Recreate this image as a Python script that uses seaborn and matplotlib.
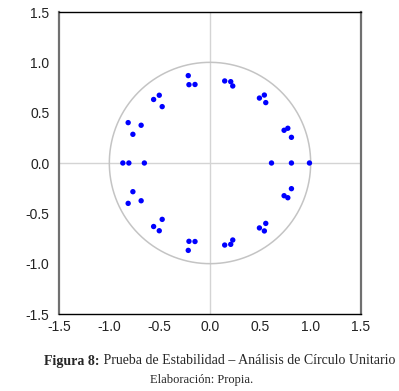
import numpy as np
import pandas as pd
import matplotlib
matplotlib.use("Agg")
import matplotlib.pyplot as plt
import seaborn as sns

# Inverse roots of the AR characteristic polynomial
real_part = [-0.216, -0.209, -0.149, 0.146, 0.206, 0.226,
             -0.504, -0.560, -0.475, 0.491, 0.540, 0.554,
             -0.813, -0.684, -0.766, 0.736, 0.773, 0.809,
             -0.216, -0.209, -0.149, 0.146, 0.206, 0.226,
             -0.504, -0.560, -0.475, 0.491, 0.540, 0.554,
             -0.813, -0.684, -0.766, 0.736, 0.773, 0.809,
             -0.866, -0.806, -0.652, 0.611, 0.809, 0.988]
imag_part = [0.868, 0.778, 0.780, 0.815, 0.808, 0.765,
             0.673, 0.631, 0.560, 0.645, 0.675, 0.600,
             0.401, 0.375, 0.285, 0.325, 0.345, 0.255,
             -0.868, -0.778, -0.780, -0.815, -0.808, -0.765,
             -0.673, -0.631, -0.560, -0.645, -0.675, -0.600,
             -0.401, -0.375, -0.285, -0.325, -0.345, -0.255,
             0.0, 0.0, 0.0, 0.0, 0.0, 0.0]
tick_values = [-1.5, -1.0, -0.5, 0.0, 0.5, 1.0, 1.5]
tick_labels = ["-1.5", "-1.0", "-0.5", "0.0", "0.5", "1.0", "1.5"]
caption_bold = "Figura 8:"
caption_rest = " Prueba de Estabilidad \u2013 An\u00e1lisis de C\u00edrculo Unitario"
source_text = "Elaboraci\u00f3n: Propia."

df = pd.DataFrame({"re": real_part, "im": imag_part})

sns.set_theme(style="white")
plt.rcParams["font.family"] = ["Liberation Sans", "DejaVu Sans"]

fig = plt.figure(figsize=(3.99, 3.91), dpi=100)
ax = fig.add_axes([59 / 399, 1 - 314 / 391, (361 - 59) / 399, (314 - 12) / 391])

ax.axhline(0, color="#d4d4d4", lw=1, zorder=0)
ax.axvline(0, color="#d4d4d4", lw=1, zorder=0)
theta = np.linspace(0, 2 * np.pi, 400)
ax.plot(np.cos(theta), np.sin(theta), color="#c4c4c4", lw=1.1, zorder=1)

sns.scatterplot(data=df, x="re", y="im", ax=ax, color="#0000ff",
                s=15, edgecolor="none", zorder=3, legend=False)

ax.set_xlim(-1.5, 1.5)
ax.set_ylim(-1.5, 1.5)
ax.set_xticks(tick_values)
ax.set_xticklabels(tick_labels)
ax.set_yticks(tick_values)
ax.set_yticklabels(tick_labels)
ax.set_xlabel("")
ax.set_ylabel("")
ax.tick_params(axis="x", direction="in", length=4, width=0.8, color="#333333",
               labelsize=10, labelcolor="#222222", pad=4)
ax.tick_params(axis="y", direction="out", length=4, width=0.8, color="#777777",
               labelsize=10, labelcolor="#222222", pad=3)
for side in ["top", "bottom"]:
    ax.spines[side].set_color("#000000")
    ax.spines[side].set_linewidth(1.0)
for side in ["left", "right"]:
    ax.spines[side].set_color("#707070")
    ax.spines[side].set_linewidth(1.6)

# caption
serif = ["Liberation Serif", "DejaVu Serif"]
t1 = fig.text(44 / 399, 1 - 361 / 391, caption_bold, family=serif,
              fontsize=10, fontweight="bold", ha="left", va="center")
fig.canvas.draw()
bb = t1.get_window_extent()
fig.text(bb.x1 / fig.bbox.width, 1 - 361 / 391, caption_rest, family=serif,
         fontsize=10, ha="left", va="center")
fig.text(202 / 399, 1 - 380 / 391, source_text, family=serif,
         fontsize=9, ha="center", va="center")

fig.savefig("out.png", dpi=100)
